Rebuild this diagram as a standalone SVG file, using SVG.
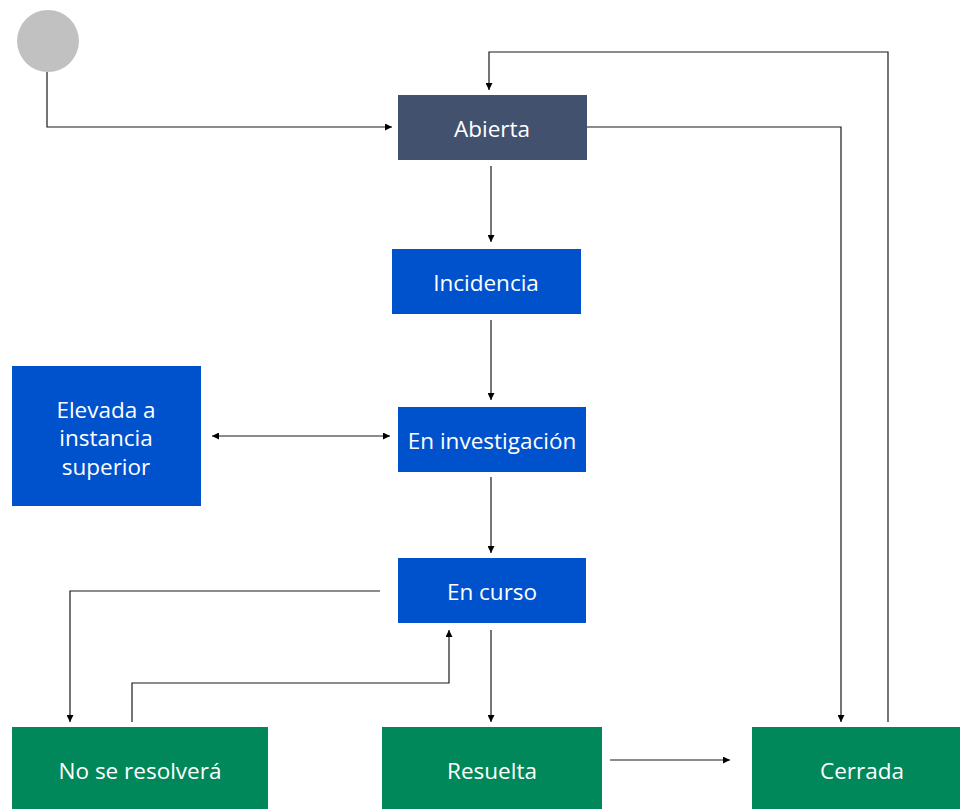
<svg xmlns="http://www.w3.org/2000/svg" width="960" height="809" viewBox="0 0 960 809">
<style>
.lbl{font-family:"Open Sans","Liberation Sans",sans-serif;font-size:22.5px;fill:#ffffff;text-anchor:middle;dominant-baseline:central}
.c{fill:none;stroke:#1a1a1a;stroke-width:1.2}
.dark{fill:#42526E}
.blue{fill:#0052CC}
.green{fill:#00875A}
</style>
<defs>
<marker id="ah" viewBox="0 0 10 10" refX="10" refY="5" markerWidth="7" markerHeight="7" markerUnits="userSpaceOnUse" orient="auto-start-reverse">
<path d="M0,0 L10,5 L0,10 z" fill="#000"/>
</marker>
</defs>
<rect width="960" height="809" fill="#ffffff"/>
<g id="connectors">
<path class="c" d="M47,72 V127 H392" marker-end="url(#ah)"/>
<path class="c" d="M491,166 V242" marker-end="url(#ah)"/>
<path class="c" d="M491,320 V400" marker-end="url(#ah)"/>
<path class="c" d="M212,436 H390" marker-start="url(#ah)" marker-end="url(#ah)"/>
<path class="c" d="M491,477 V553" marker-end="url(#ah)"/>
<path class="c" d="M380,591 H70 V722" marker-end="url(#ah)"/>
<path class="c" d="M132,722 V683 H449 V630" marker-end="url(#ah)"/>
<path class="c" d="M491,630 V722" marker-end="url(#ah)"/>
<path class="c" d="M610,760 H730" marker-end="url(#ah)"/>
<path class="c" d="M587,127 H841 V722" marker-end="url(#ah)"/>
<path class="c" d="M888,722 V52 H489 V90" marker-end="url(#ah)"/>
</g>
<g id="start"><circle cx="48" cy="41" r="31" fill="#C1C1C1"/></g>
<g id="abierta"><rect class="dark" x="398" y="95" width="189" height="65"/><text class="lbl" x="492" y="128">Abierta</text></g>
<g id="incidencia"><rect class="blue" x="392" y="249" width="189" height="65"/><text class="lbl" x="486" y="282">Incidencia</text></g>
<g id="elevada"><rect class="blue" x="12" y="366" width="189" height="140"/><text class="lbl" x="106" y="409">Elevada a</text><text class="lbl" x="106" y="437">instancia</text><text class="lbl" x="106" y="466">superior</text></g>
<g id="investigacion"><rect class="blue" x="398" y="407" width="188" height="65"/><text class="lbl" x="492" y="440">En investigación</text></g>
<g id="encurso"><rect class="blue" x="398" y="558" width="188" height="65"/><text class="lbl" x="492" y="591">En curso</text></g>
<g id="noseresolvera"><rect class="green" x="12" y="727" width="256" height="82"/><text class="lbl" x="140" y="770">No se resolverá</text></g>
<g id="resuelta"><rect class="green" x="382" y="727" width="220" height="82"/><text class="lbl" x="492" y="770">Resuelta</text></g>
<g id="cerrada"><rect class="green" x="752" y="727" width="208" height="82"/><text class="lbl" x="862" y="770">Cerrada</text></g>
</svg>
